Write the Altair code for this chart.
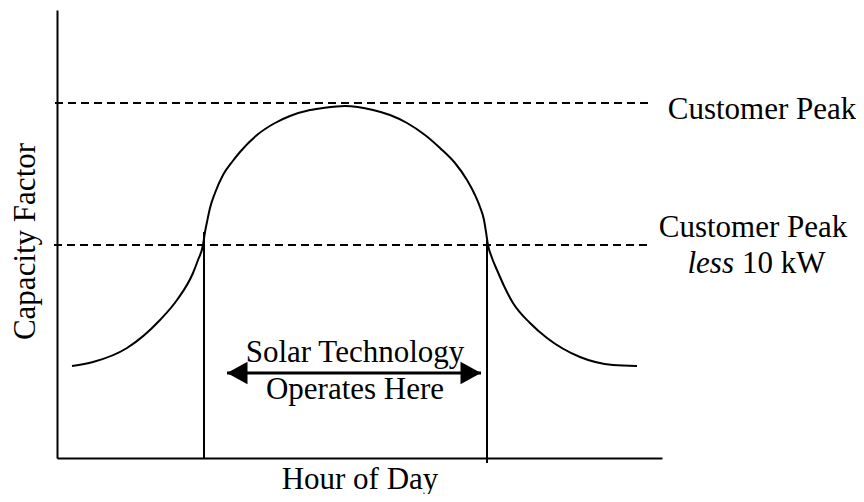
import altair as alt
import pandas as pd

FONT = "Liberation Serif"

# Schematic load curve (x: position along the hour axis, y: capacity factor level)
curve_x = [15, 36, 70, 103, 120, 136, 141, 146, 148,
           150, 153, 158, 166, 175, 183, 200, 218, 233, 253, 266, 288,
           316, 333, 350, 368, 383, 398, 410, 418, 423, 427, 429, 431,
           435, 440, 448, 456, 473, 490, 523, 556, 580]
curve_y = [92, 96, 110, 138, 158, 185, 198, 213, 226,
           236, 250, 265, 283, 296, 306, 323, 335, 342, 348, 350, 352,
           348, 343, 335, 323, 310, 295, 278, 263, 251, 238, 226, 213,
           200, 188, 170, 155, 135, 120, 101, 93, 92]

# Dashed reference levels
level_y = [355, 213]
level_x_start = [-2, -3]
level_x_end = [591, 593]

# Vertical marker lines (start / end of solar operation)
vline_x = [147, 430]
vline_top = [226, 218]
vline_bottom = [0, -5]

# Double arrow
arrow_y = 85
arrow_left = 170
arrow_right = 424

# Labels
label_text = ["Customer Peak", "Customer Peak", "Solar Technology", "Operates Here"]
label_x = [705, 696, 298, 298]
label_y = [339, 221, 96, 59]

less_x, less_y = 677, 185
kw_x, kw_y = 685, 185

XS = alt.Scale(domain=[0, 605], nice=False, zero=False)
YS = alt.Scale(domain=[0, 448], nice=False, zero=False)

curve_df = pd.DataFrame({"x": curve_x, "y": curve_y})
level_df = pd.DataFrame({"y": level_y, "x": level_x_start, "x2": level_x_end})
vline_df = pd.DataFrame({"x": vline_x, "y": vline_top, "y2": vline_bottom})
arrow_df = pd.DataFrame({"x": [arrow_left], "x2": [arrow_right], "y": [arrow_y]})
head_df = pd.DataFrame({"x": [arrow_left, arrow_right], "y": [arrow_y, arrow_y],
                        "side": ["L", "R"]})
label_df = pd.DataFrame({"t": label_text, "x": label_x, "y": label_y})

xaxis = alt.Axis(title="Hour of Day", ticks=False, labels=False, grid=False,
                 domainColor="black", domainWidth=2, titleFont=FONT, titleFontSize=31,
                 titleFontWeight="normal", titleColor="black", titlePadding=6)
yaxis = alt.Axis(title="Capacity Factor", ticks=False, labels=False, grid=False,
                 domainColor="black", domainWidth=2, titleFont=FONT, titleFontSize=31,
                 titleFontWeight="normal", titleColor="black", titlePadding=16, titleY=231)

curve = alt.Chart(curve_df).mark_line(color="black", strokeWidth=2, interpolate="monotone").encode(
    x=alt.X("x:Q", scale=XS, axis=xaxis),
    y=alt.Y("y:Q", scale=YS, axis=yaxis),
)

levels = alt.Chart(level_df).mark_rule(color="black", strokeWidth=1.8, strokeDash=[8, 5]).encode(
    x=alt.X("x:Q", scale=XS), x2="x2:Q", y=alt.Y("y:Q", scale=YS)
)

vlines = alt.Chart(vline_df).mark_rule(color="black", strokeWidth=2).encode(
    x=alt.X("x:Q", scale=XS), y=alt.Y("y:Q", scale=YS), y2="y2:Q"
)

arrow_line = alt.Chart(arrow_df).mark_rule(color="black", strokeWidth=3).encode(
    x=alt.X("x:Q", scale=XS), x2="x2:Q", y=alt.Y("y:Q", scale=YS)
)

head_l = alt.Chart(head_df[head_df.side == "L"]).mark_point(
    shape="M0,0L2,-1.1L2,1.1Z", size=420, filled=True, color="black", opacity=1, strokeWidth=0
).encode(x=alt.X("x:Q", scale=XS), y=alt.Y("y:Q", scale=YS))

head_r = alt.Chart(head_df[head_df.side == "R"]).mark_point(
    shape="M0,0L-2,-1.1L-2,1.1Z", size=420, filled=True, color="black", opacity=1, strokeWidth=0
).encode(x=alt.X("x:Q", scale=XS), y=alt.Y("y:Q", scale=YS))

labels = alt.Chart(label_df).mark_text(font=FONT, fontSize=31, color="black",
                                        align="center", baseline="alphabetic").encode(
    x=alt.X("x:Q", scale=XS), y=alt.Y("y:Q", scale=YS), text="t:N"
)

less = alt.Chart(pd.DataFrame({"x": [less_x], "y": [less_y], "t": ["less"]})).mark_text(
    font=FONT, fontSize=31, fontStyle="italic", color="black", align="right", baseline="alphabetic"
).encode(x=alt.X("x:Q", scale=XS), y=alt.Y("y:Q", scale=YS), text="t:N")

kw = alt.Chart(pd.DataFrame({"x": [kw_x], "y": [kw_y], "t": ["10 kW"]})).mark_text(
    font=FONT, fontSize=31, color="black", align="left", baseline="alphabetic"
).encode(x=alt.X("x:Q", scale=XS), y=alt.Y("y:Q", scale=YS), text="t:N")

chart = alt.layer(levels, vlines, curve, arrow_line, head_l, head_r, labels, less, kw).properties(
    width=605, height=448,
    autosize=alt.AutoSizeParams(type="none"),
    padding={"left": 49, "top": 2, "right": 194, "bottom": 36},
    background="white",
).configure_view(stroke=None)

chart.save("out.html", embed_options={"renderer": "svg", "actions": False})
